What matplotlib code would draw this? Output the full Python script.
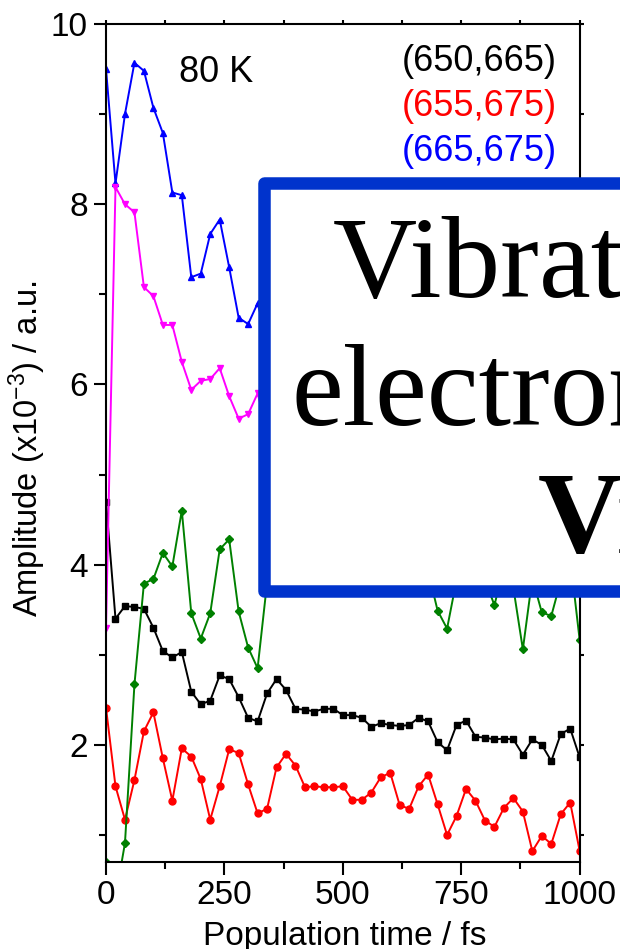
import matplotlib
matplotlib.use("Agg")
import matplotlib.pyplot as plt
from matplotlib.patches import Rectangle

# population time axis, one point every 20 fs
t_fs = list(range(0, 1001, 20))

amp_650_665 = [4.70, 3.40, 3.54, 3.53, 3.51, 3.30, 3.04, 2.97, 3.03, 2.59,
               2.45, 2.49, 2.77, 2.73, 2.53, 2.30, 2.26, 2.57, 2.73, 2.61,
               2.40, 2.39, 2.37, 2.40, 2.40, 2.33, 2.33, 2.30, 2.20, 2.24,
               2.22, 2.21, 2.22, 2.30, 2.26, 2.03, 1.94, 2.22, 2.27, 2.09,
               2.08, 2.06, 2.07, 2.06, 1.89, 2.06, 2.00, 1.82, 2.12, 2.18,
               1.86]
amp_655_675 = [2.41, 1.54, 1.17, 1.61, 2.15, 2.36, 1.85, 1.38, 1.96, 1.87,
               1.62, 1.17, 1.54, 1.95, 1.91, 1.56, 1.24, 1.29, 1.75, 1.90,
               1.77, 1.53, 1.54, 1.53, 1.53, 1.54, 1.39, 1.39, 1.47, 1.64,
               1.69, 1.33, 1.29, 1.54, 1.67, 1.34, 1.00, 1.21, 1.51, 1.38,
               1.16, 1.09, 1.30, 1.41, 1.26, 0.82, 0.99, 0.90, 1.23, 1.36,
               0.82]
amp_665_675 = [9.50, 8.23, 9.00, 9.57, 9.48, 9.07, 8.79, 8.13, 8.10, 7.19,
               7.23, 7.67, 7.83, 7.30, 6.74, 6.67, 6.90, 6.50, 6.60, 6.20,
               6.00, 6.30, 5.90, 5.70, 5.90, 5.60, 5.50, 5.70, 5.40, 5.30,
               5.50, 5.20, 5.30, 5.10, 5.00, 5.20, 4.90, 5.00, 4.80, 4.90,
               4.70, 4.80, 4.60, 4.70, 4.50, 4.60, 4.40, 4.50, 4.30, 4.40,
               4.20]
amp_magenta = [3.30, 8.19, 8.00, 7.91, 7.08, 6.98, 6.66, 6.66, 6.25, 5.94,
               6.04, 6.06, 6.18, 5.87, 5.62, 5.67, 5.90, 5.50, 5.60, 5.30,
               5.20, 5.40, 5.10, 5.00, 5.10, 4.90, 4.80, 5.00, 4.70, 4.60,
               4.80, 4.50, 4.60, 4.40, 4.40, 4.50, 4.30, 4.30, 4.20, 4.30,
               4.10, 4.20, 4.10, 4.10, 4.00, 4.10, 3.90, 4.00, 3.90, 3.95,
               3.90]
amp_green = [0.70, 0.30, 0.91, 2.67, 3.79, 3.84, 4.13, 3.98, 4.60, 3.46,
             3.18, 3.46, 4.17, 4.28, 3.48, 3.08, 2.85, 3.80, 4.40, 4.10,
             4.50, 3.90, 4.30, 4.00, 4.40, 4.10, 3.90, 4.30, 4.00, 3.80,
             4.20, 4.00, 4.30, 4.00, 3.93, 3.49, 3.29, 3.83, 4.00, 3.90,
             3.83, 3.55, 3.98, 3.74, 3.06, 3.85, 3.47, 3.43, 3.82, 4.07,
             3.16]

pair_labels = ["(650,665)", "(655,675)", "(665,675)"]
pair_colors = ["black", "red", "blue"]

plt.rcParams["font.family"] = ["Liberation Sans", "DejaVu Sans"]
plt.rcParams["mathtext.default"] = "regular"

fig = plt.figure(figsize=(6.2, 9.49), dpi=100)
ax = fig.add_axes([0.171, 0.0917, 0.764, 0.8830])

lw = 1.4
ax.plot(t_fs, amp_650_665, color="black", marker="s", ms=4.5, lw=lw)
ax.plot(t_fs, amp_655_675, color="red", marker="o", ms=5, lw=lw)
ax.plot(t_fs, amp_665_675, color="blue", marker="^", ms=5, lw=lw)
ax.plot(t_fs, amp_magenta, color="magenta", marker="v", ms=5, lw=lw)
ax.plot(t_fs, amp_green, color="green", marker="D", ms=4, lw=lw)

ax.set_xlim(0, 1000)
ax.set_ylim(0.7, 10)
ax.set_xticks([0, 250, 500, 750, 1000])
ax.set_xticks(range(125, 1000, 250), minor=True)
ax.set_yticks([2, 4, 6, 8, 10])
ax.set_yticks([1, 3, 5, 7, 9], minor=True)
ax.tick_params(which="both", direction="out", width=1.5, labelsize=24,
               top=True, right=True, pad=4)
ax.tick_params(which="major", length=9)
ax.tick_params(which="minor", length=5)
# short stubs on the top and right frame
for axis in (ax.xaxis, ax.yaxis):
    for tick in axis.get_major_ticks() + axis.get_minor_ticks():
        tick.tick2line.set_markersize(3)
for s in ax.spines.values():
    s.set_linewidth(1.5)

ax.set_xlabel("Population time / fs", fontsize=24, va="top")
ax.xaxis.set_label_coords(0.504, -0.070)
ax.set_ylabel("Amplitude (x10$^{-3}$) / a.u.", fontsize=23.5)
ax.yaxis.set_label_coords(-0.122, 0.493)

ax.text(0.155, 0.942, "80 K", transform=ax.transAxes, fontsize=26,
        ha="left", va="center")
for i, (lab, col) in enumerate(zip(pair_labels, pair_colors)):
    ax.text(0.952, 0.955 - i * 0.0535, lab, transform=ax.transAxes,
            fontsize=26, color=col, ha="right", va="center")

# title card laid over the right-hand part of the plot
W, H = 620, 949
bw = 12.5
card = Rectangle(((258 + bw / 2) / W, 1 - (597 - bw / 2) / H),
                 (700 - 258) / W, (597 - 177 - bw) / H,
                 transform=fig.transFigure, facecolor="white",
                 edgecolor="#0033cc", linewidth=bw * 72 / 100,
                 joinstyle="round", zorder=5)
fig.patches.append(card)

serif = "Liberation Serif"
fig.text(333 / W, 1 - 297 / H, "Vibrational", fontsize=84, family=serif,
         ha="left", va="baseline", zorder=6)
fig.text(292 / W, 1 - 425 / H, "electronic", fontsize=84, family=serif,
         ha="left", va="baseline", zorder=6)
fig.text(538 / W, 1 - 552 / H, "Vibronic", fontsize=84, family=serif,
         weight="bold", ha="left", va="baseline", zorder=6)

fig.savefig("out.png", dpi=100)
